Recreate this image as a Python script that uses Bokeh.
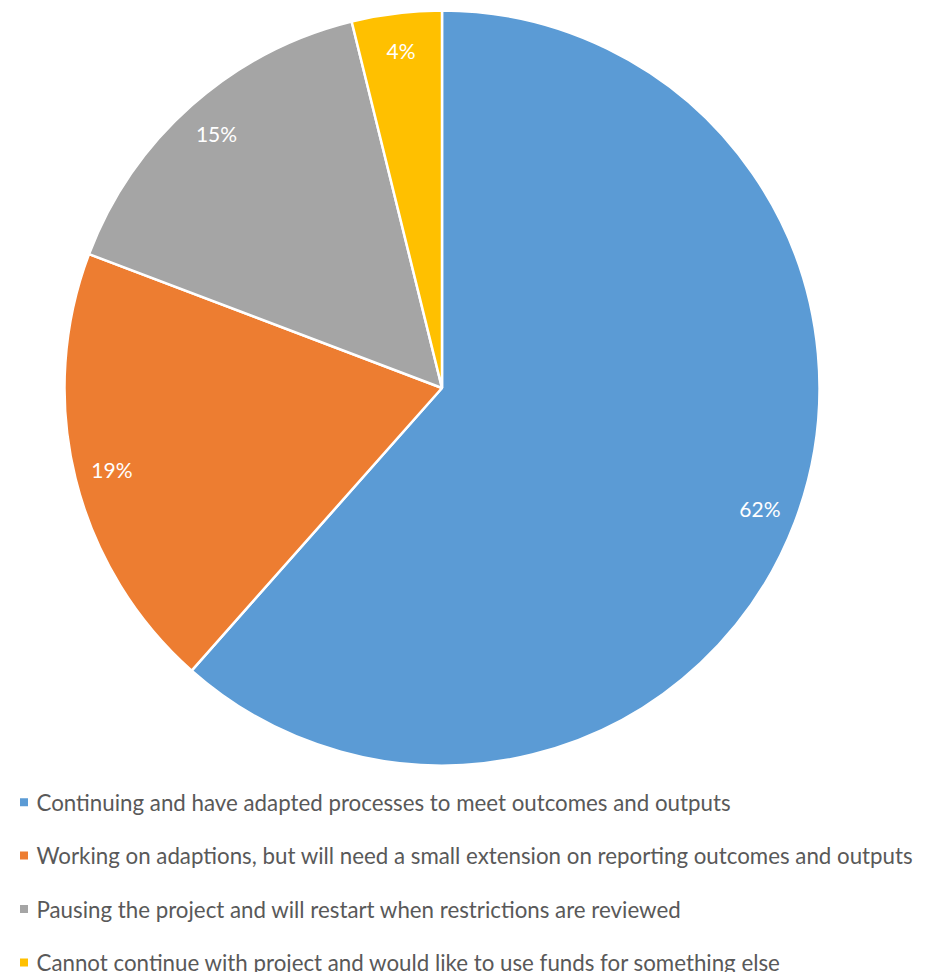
import math
from bokeh.plotting import figure
from bokeh.models import Range1d, ColumnDataSource
from bokeh.core.properties import value
from bokeh.embed import file_html
from bokeh.resources import INLINE

categories = [
    "Continuing and have adapted processes to meet outcomes and outputs",
    "Working on adaptions, but will need a small extension on reporting outcomes and outputs",
    "Pausing the project and will restart when restrictions are reviewed",
    "Cannot continue with project and would like to use funds for something else",
]
counts = [16, 5, 4, 1]
colors = ["#5B9BD5", "#ED7D31", "#A5A5A5", "#FFC000"]

W, H = 927, 972

def sy(y):
    # screen y -> data y
    return H - y

p = figure(width=W, height=H, output_backend="svg", toolbar_location=None,
           x_range=Range1d(0, W), y_range=Range1d(0, H),
           min_border=0, outline_line_color=None)
p.axis.visible = False
p.grid.visible = False
p.background_fill_color = "white"
p.border_fill_color = "white"

cx, cy, R = 441.5, sy(387.5), 377.5
total = sum(counts)
starts, ends, lx, ly, labels = [], [], [], [], []
cum = 0
for c in counts:
    f0 = cum / total
    cum += c
    f1 = cum / total
    starts.append(math.radians(90 - 360 * f1))
    ends.append(math.radians(90 - 360 * f0))
    mid = math.radians(90 - 360 * (f0 + f1) / 2)
    lx.append(cx + 340 * math.cos(mid))
    ly.append(cy + 340 * math.sin(mid))
    labels.append(f"{round(100 * c / total)}%")

src = ColumnDataSource(dict(start=starts, end=ends, color=colors, lx=lx, ly=ly, label=labels))
p.wedge(x=cx, y=cy, radius=R, start_angle="start", end_angle="end", direction="anticlock",
        fill_color="color", line_color="white", line_width=2.5, source=src)
p.text(x="lx", y="ly", text="label", source=src, text_color="white",
       text_font=value("Lato"), text_font_size="21px", text_align="center",
       text_baseline="middle")

# legend
leg_y = [sy(801.7 + 53.4 * i) for i in range(len(categories))]
lsrc = ColumnDataSource(dict(y=leg_y, color=colors, text=categories))
p.scatter(x=23.5, y="y", marker="square", size=8, fill_color="color", line_color=None, source=lsrc)
p.text(x=36, y="y", text="text", source=lsrc, text_color="#595959",
       text_font=value("Lato"), text_font_size="22.3px", text_align="left",
       text_baseline="middle")

open("out.html", "w").write(file_html(p, INLINE))
